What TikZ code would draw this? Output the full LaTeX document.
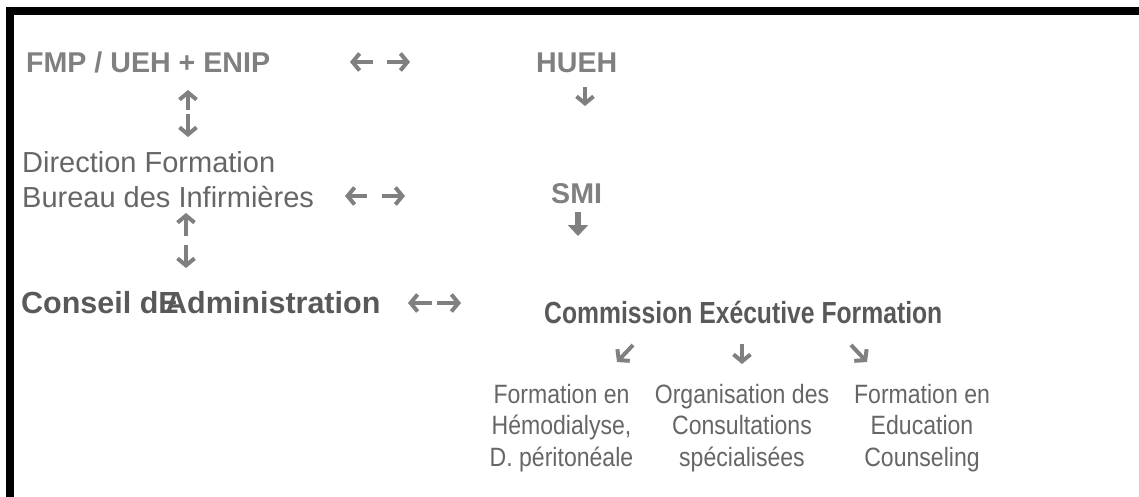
\documentclass[tikz,border=0pt]{standalone}
\usepackage{fontspec}
\setmainfont{Liberation Sans}
\newfontfamily\narrowfont[FakeStretch=0.87]{Liberation Sans}
\newfontfamily\condfont[FakeStretch=0.81]{Liberation Sans}
\usetikzlibrary{arrows.meta}
\definecolor{tgray}{HTML}{808080}
\definecolor{tdark}{HTML}{595959}
\definecolor{treg}{HTML}{666666}
\begin{document}
\begin{tikzpicture}[x=1pt,y=-1pt,
  lbl/.style={inner sep=0pt, anchor=base west, text=treg, font=\fontsize{29}{34}\selectfont},
  blbl/.style={lbl, text=tgray, font=\fontsize{28.6}{34}\selectfont\bfseries},
  title/.style={lbl, text=tdark, font=\fontsize{30.5}{36}\selectfont\bfseries},
  ctitle/.style={lbl, text=tdark, font=\condfont\fontsize{30.5}{36}\selectfont\bfseries},
  col/.style={inner sep=0pt, anchor=north, align=center, text=treg, font=\narrowfont\fontsize{26.5}{31.5}\selectfont},
  arr/.style={draw=tgray, line width=4pt, line cap=butt, -{Straight Barb[length=7pt,width=17pt,line width=4pt]}},
  barr/.style={draw=tgray, line width=5.5pt, -{Triangle[length=11pt,width=20pt]}}
]
\useasboundingbox (0,0) rectangle (1139,497);
\fill[black] (6,7) rectangle (1139,15);
\fill[black] (6,7) rectangle (14,497);

% text
\node[blbl] (fmp) at (26,72.5) {FMP / UEH + ENIP};
\node[blbl] (hueh) at (536,73) {HUEH};
\node[lbl] (dir) at (22,172) {Direction Formation};
\node[lbl] (bur) at (22,207) {Bureau des Infirmières};
\node[blbl] (smi) at (551,203.5) {SMI};
\node[title] (ca) at (21,313) {Conseil d\rlap{E}\kern0.22em Administration};
\node[ctitle] (cef) at (544,323) {Commission Exécutive Formation};
\node[col] (c1) at (561.5,384) {Formation en\\Hémodialyse,\\D. péritonéale};
\node[col] (c2) at (742,384) {Organisation des\\Consultations\\spécialisées};
\node[col] (c3) at (922,384) {Formation en\\Education\\Counseling};

% arrow coordinates
\coordinate (r1ls) at (373,62); \coordinate (r1le) at (350,62);
\coordinate (r1rs) at (387,62); \coordinate (r1re) at (410,62);
\coordinate (v1us) at (188,110); \coordinate (v1ue) at (188,90);
\coordinate (v1ds) at (188,114); \coordinate (v1de) at (188,137);
\coordinate (hds) at (585,87); \coordinate (hde) at (585,106);
\coordinate (r2ls) at (367,196); \coordinate (r2le) at (345,196);
\coordinate (r2rs) at (382,196); \coordinate (r2re) at (405,196);
\coordinate (sds) at (578,212); \coordinate (sde) at (578,236);
\coordinate (v2us) at (186,236); \coordinate (v2ue) at (186,213);
\coordinate (v2ds) at (186,245); \coordinate (v2de) at (186,268);
\coordinate (r3ls) at (432,303); \coordinate (r3le) at (408,303);
\coordinate (r3rs) at (437,303); \coordinate (r3re) at (461,303);
\coordinate (b1s) at (633,345); \coordinate (b1e) at (617,362);
\coordinate (b2s) at (742,344); \coordinate (b2e) at (742,364);
\coordinate (b3s) at (851,345); \coordinate (b3e) at (867,362);

\draw[arr] (r1ls) -- (r1le);
\draw[arr] (r1rs) -- (r1re);
\draw[arr] (v1us) -- (v1ue);
\draw[arr] (v1ds) -- (v1de);
\draw[arr] (hds) -- (hde);
\draw[arr] (r2ls) -- (r2le);
\draw[arr] (r2rs) -- (r2re);
\draw[barr] (sds) -- (sde);
\draw[arr] (v2us) -- (v2ue);
\draw[arr] (v2ds) -- (v2de);
\draw[arr] (r3ls) -- (r3le);
\draw[arr] (r3rs) -- (r3re);
\draw[arr] (b1s) -- (b1e);
\draw[arr] (b2s) -- (b2e);
\draw[arr] (b3s) -- (b3e);
\end{tikzpicture}
\end{document}
